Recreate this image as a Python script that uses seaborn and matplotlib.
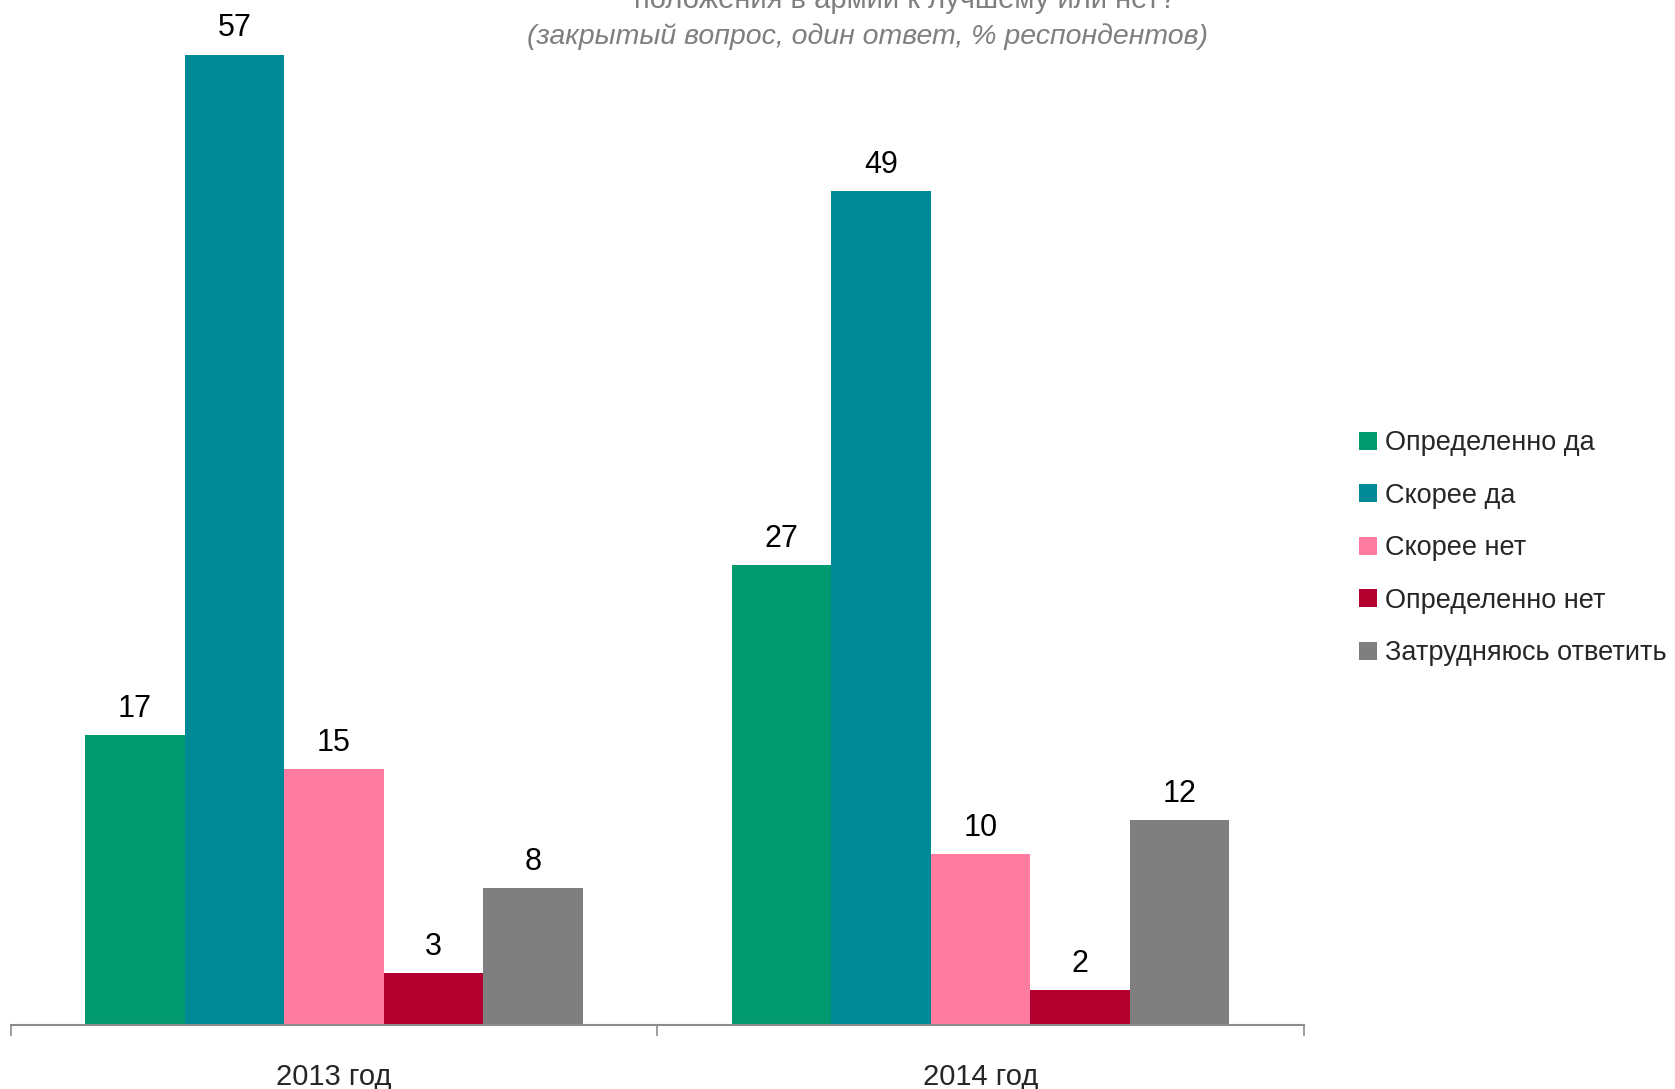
import pandas as pd
import numpy as np
import matplotlib
matplotlib.use("Agg")
import matplotlib.pyplot as plt
import seaborn as sns

sns.set_style("white")
plt.rcParams['font.family'] = ['Liberation Sans', 'DejaVu Sans']

# Data
years = ["2013 год", "2014 год"]
answers = ["Определенно да", "Скорее да", "Скорее нет", "Определенно нет", "Затрудняюсь ответить"]
values_2013 = [17, 57, 15, 3, 8]
values_2014 = [27, 49, 10, 2, 12]
colors = ["#009A6E", "#008A98", "#FF7CA0", "#B4002F", "#7F7F7F"]

df = pd.DataFrame({
    "year": np.repeat(years, len(answers)),
    "answer": answers * len(years),
    "value": values_2013 + values_2014,
})

fig = plt.figure(figsize=(16.75, 10.89), dpi=100)
ax = fig.add_axes([0.0064, 0.0592, 0.772, 0.9376])

sns.barplot(data=df, x="year", y="value", hue="answer", hue_order=answers,
            palette=colors, width=0.77, gap=0, saturation=1, ax=ax,
            errorbar=None, edgecolor="none")

for cont in ax.containers:
    ax.bar_label(cont, padding=8, fontsize=22, color="black")

ax.set_ylim(0, 60)
ax.set_xlim(-0.5, 1.5)
ax.set_xlabel("")
ax.set_ylabel("")
ax.set_yticks([])

# Category boundary ticks below axis
ax.set_xticks([-0.5, 0.5, 1.5], minor=False)
ax.set_xticklabels([])
ax.set_xticks([0, 1], minor=True)
ax.set_xticklabels(years, minor=True, fontsize=21)
ax.tick_params(axis="x", which="major", direction="out", length=8, width=1.2,
               color="#8C8C8C", bottom=True)
ax.tick_params(axis="x", which="minor", length=0, pad=28)

for s in ["top", "left", "right"]:
    ax.spines[s].set_visible(False)
ax.spines["bottom"].set_color("#8C8C8C")
ax.spines["bottom"].set_linewidth(1.5)

leg = ax.legend(loc="center left", bbox_to_anchor=(0.8035, 0.4965),
                bbox_transform=fig.transFigure, frameon=False, fontsize=19.5,
                handlelength=0.65, handleheight=0.65, handletextpad=0.3,
                labelspacing=0.98, borderpad=0)

# Title (top line cut off by the figure edge, as in the source)
fig.text(0.54, 1.0, "положения в армии к лучшему или нет?", ha="center", va="center",
         fontsize=21, color="#7F7F7F")
fig.text(0.518, 0.966, "(закрытый вопрос, один ответ, % респондентов)", ha="center",
         va="center", fontsize=20.5, color="#7F7F7F", style="italic")

fig.savefig("out.png", dpi=100)
